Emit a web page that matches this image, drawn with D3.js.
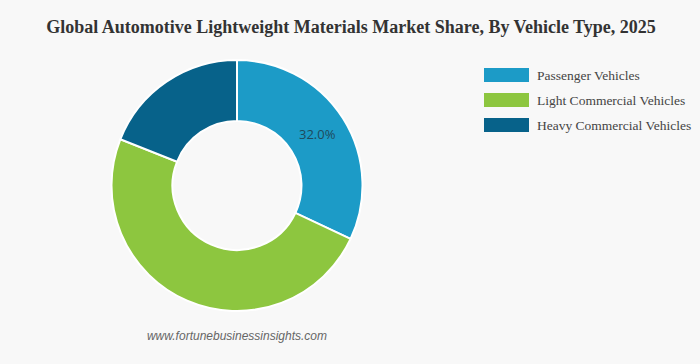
<!DOCTYPE html>
<html>
<head>
<meta charset="utf-8">
<script src="https://cdn.jsdelivr.net/npm/d3@7"></script>
<style>
  html, body { margin: 0; padding: 0; background: #f8f8f8; }
  svg { display: block; }
</style>
</head>
<body>
<div id="chart"></div>
<script>
/** Chart data **/
var categories = ["Passenger Vehicles", "Light Commercial Vehicles", "Heavy Commercial Vehicles"];
var shares = [32.0, 49.0, 19.0];
var colors = ["#1c9bc7", "#8dc63f", "#07628a"];
var shownLabels = [true, false, false];

var width = 700, height = 364;
var cx = 237, cy = 185.5;
var outerR = 125.5, innerR = 64.5;

var svg = d3.select("#chart").append("svg")
    .attr("width", width)
    .attr("height", height);

svg.append("rect")
    .attr("width", width)
    .attr("height", height)
    .attr("fill", "#f8f8f8");

/** Title **/
svg.append("text")
    .text("Global Automotive Lightweight Materials Market Share, By Vehicle Type, 2025")
    .attr("x", 351)
    .attr("y", 33)
    .style("font-family", "'Liberation Serif', 'Times New Roman', serif")
    .style("font-weight", "bold")
    .style("font-size", "18px")
    .style("fill", "#333")
    .style("text-anchor", "middle");

/** Donut **/
var pie = d3.pie().sort(null).value(function(d){ return d; });
var arc = d3.arc().innerRadius(innerR).outerRadius(outerR);
var labelArc = d3.arc().innerRadius((innerR + outerR) / 2).outerRadius((innerR + outerR) / 2);

var g = svg.append("g").attr("transform", "translate(" + cx + "," + cy + ")");

var slices = g.selectAll(".slice")
    .data(pie(shares))
    .enter().append("g")
    .attr("class", "slice");

slices.append("path")
    .attr("d", arc)
    .attr("fill", function(d, i){ return colors[i]; })
    .attr("stroke", "#ffffff")
    .attr("stroke-width", 2);

slices.filter(function(d, i){ return shownLabels[i]; })
    .append("text")
    .text(function(d){ return d.data.toFixed(1) + "%"; })
    .attr("transform", function(d){ return "translate(" + labelArc.centroid(d) + ")"; })
    .attr("dy", "0.35em")
    .style("font-family", "'Open Sans', 'Noto Sans', sans-serif")
    .style("font-size", "13px")
    .style("fill", "#1f4a5c")
    .style("text-anchor", "middle");

/** Legend **/
var legend = svg.append("g").attr("transform", "translate(484,68)");
var rows = legend.selectAll(".row")
    .data(categories)
    .enter().append("g")
    .attr("class", "row")
    .attr("transform", function(d, i){ return "translate(0," + (i * 25) + ")"; });

rows.append("rect")
    .attr("width", 45)
    .attr("height", 14)
    .attr("fill", function(d, i){ return colors[i]; });

rows.append("text")
    .text(function(d){ return d; })
    .attr("x", 53)
    .attr("y", 7)
    .attr("dy", "0.35em")
    .style("font-family", "'Liberation Serif', 'Times New Roman', serif")
    .style("font-size", "13.5px")
    .style("fill", "#444");

/** Source **/
svg.append("text")
    .text("www.fortunebusinessinsights.com")
    .attr("x", 237)
    .attr("y", 340)
    .style("font-family", "'Liberation Sans', Arial, sans-serif")
    .style("font-style", "italic")
    .style("font-size", "12px")
    .style("fill", "#666")
    .style("text-anchor", "middle");
</script>
</body>
</html>
